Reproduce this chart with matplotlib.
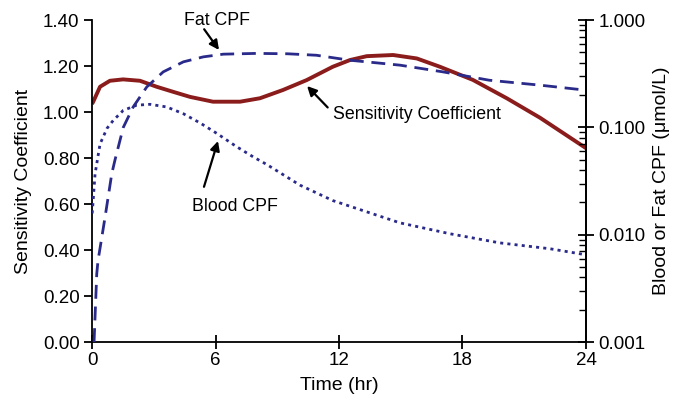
import matplotlib
matplotlib.use("Agg")
import matplotlib.pyplot as plt
from matplotlib.ticker import FixedLocator, FixedFormatter, LogLocator, NullFormatter

plt.rcParams['font.family'] = ['Liberation Sans', 'DejaVu Sans']

# Sensitivity coefficient (left axis)
sens_time = [0.0, 0.06, 0.39, 0.87, 1.51, 2.33, 3.14, 3.94, 4.76, 5.88, 7.19, 8.16,
             9.28, 10.43, 11.7, 12.53, 13.35, 14.63, 15.78, 16.9, 18.5, 20.15, 21.77, 24.0]
sens_val = [1.035, 1.045, 1.11, 1.136, 1.142, 1.136, 1.11, 1.088, 1.066, 1.045, 1.045,
            1.06, 1.096, 1.139, 1.197, 1.226, 1.243, 1.248, 1.233, 1.197, 1.14, 1.06,
            0.975, 0.843]

# Fat CPF (right axis, umol/L)
fat_time = [0.1, 0.23, 0.29, 0.63, 0.96, 1.12, 1.52, 2.0, 2.66, 3.46, 4.44, 5.41,
            6.38, 8.0, 9.5, 10.9, 12.5, 14.96, 17.05, 19.3, 21.8, 24.0]
fat_val = [0.001, 0.0043, 0.0057, 0.0144, 0.037, 0.05, 0.1, 0.155, 0.238, 0.329, 0.408,
           0.454, 0.481, 0.489, 0.485, 0.47, 0.423, 0.38, 0.329, 0.275, 0.247, 0.222]

# Blood CPF (right axis, umol/L)
blood_time = [0.01, 0.15, 0.39, 0.73, 1.03, 1.52, 2.17, 2.82, 3.63, 4.44, 5.25, 6.06,
              7.03, 7.84, 8.5, 10.1, 11.7, 14.96, 17.4, 19.8, 22.25, 24.0]
blood_val = [0.0158, 0.037, 0.07, 0.098, 0.116, 0.144, 0.161, 0.164, 0.155, 0.134, 0.11,
             0.088, 0.066, 0.053, 0.045, 0.029, 0.0208, 0.0129, 0.0102, 0.0084, 0.0074,
             0.0065]

x_ticks = [0, 6, 12, 18, 24]
left_ticks = [0.0, 0.2, 0.4, 0.6, 0.8, 1.0, 1.2, 1.4]
right_ticks = [0.001, 0.01, 0.1, 1.0]
right_labels = ['0.001', '0.010', '0.100', '1.000']

red = '#8b1c1c'
navy = '#2a2a8a'

fig = plt.figure(figsize=(6.78, 4.01), dpi=100)
ax = fig.add_axes([0.1357, 0.147, 0.7286, 0.803])
ax2 = ax.twinx()

ax.plot(sens_time, sens_val, color=red, lw=2.8, solid_capstyle='butt')
ax2.plot(fat_time, fat_val, color=navy, lw=2.0, ls=(0, (5, 2.8)))
ax2.plot(blood_time, blood_val, color=navy, lw=2.0, ls=(0, (1.1, 1.5)))

ax.set_xlim(0, 24)
ax.set_ylim(0, 1.4)
ax2.set_yscale('log')
ax2.set_ylim(0.001, 1.0)

ax.set_xticks(x_ticks)
ax.set_yticks(left_ticks)
ax.set_yticklabels([f'{v:.2f}' for v in left_ticks])
ax2.yaxis.set_major_locator(FixedLocator(right_ticks))
ax2.yaxis.set_major_formatter(FixedFormatter(right_labels))
ax2.yaxis.set_minor_locator(LogLocator(base=10, subs=range(2, 10)))
ax2.yaxis.set_minor_formatter(NullFormatter())

for a in (ax, ax2):
    a.spines['top'].set_visible(False)
    for s in a.spines.values():
        s.set_linewidth(1.3)
ax2.spines['left'].set_visible(False)
ax2.spines['bottom'].set_visible(False)

ax.tick_params(axis='y', direction='out', length=6, width=1.3, labelsize=13.5, pad=3)
ax.tick_params(axis='x', direction='inout', length=10, width=1.3, labelsize=13.5, pad=2)
ax2.tick_params(axis='y', which='major', direction='inout', length=12, width=1.3,
                labelsize=13.5, pad=3)
ax2.tick_params(axis='y', which='minor', direction='in', length=5, width=1.0)

ax.set_xlabel('Time (hr)', fontsize=14, labelpad=6)
ax.set_ylabel('Sensitivity Coefficient', fontsize=14, labelpad=8)
ax2.set_ylabel('Blood or Fat CPF (\u03bcmol/L)', fontsize=14, labelpad=5)

# annotations: arrows and labels
arrow = dict(arrowstyle='-|>', color='black', lw=1.6, mutation_scale=14,
             shrinkA=0, shrinkB=0)
ax.annotate('', xy=(6.17, 1.27), xytext=(5.45, 1.36), arrowprops=arrow)
ax.text(6.07, 1.40, 'Fat CPF', fontsize=12.8, ha='center', va='center')
ax.annotate('', xy=(10.45, 1.113), xytext=(11.45, 1.02), arrowprops=arrow)
ax.text(11.7, 0.99, 'Sensitivity Coefficient', fontsize=12.8, ha='left', va='center')
ax.annotate('', xy=(6.12, 0.874), xytext=(5.44, 0.675), arrowprops=arrow)
ax.text(6.95, 0.59, 'Blood CPF', fontsize=12.8, ha='center', va='center')

fig.savefig('out.png', dpi=100)
